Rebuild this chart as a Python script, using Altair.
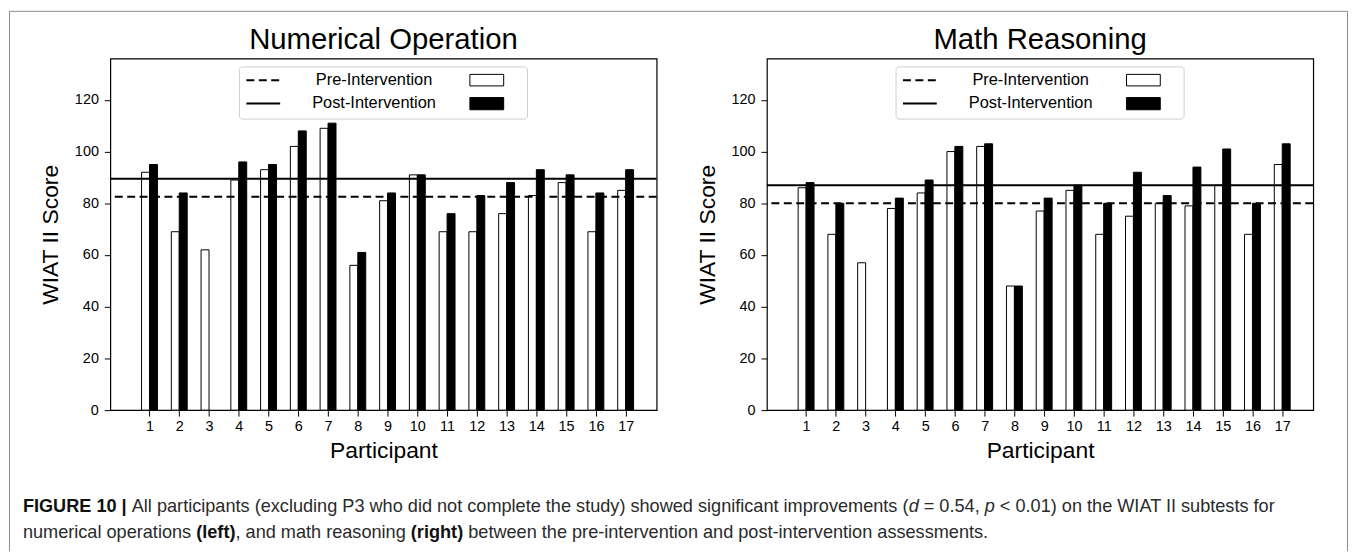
import altair as alt
import pandas as pd

# ---------------- data ----------------
participants = list(range(1, 18))
num_pre = [92, 69, 62, 89, 93, 102, 109, 56, 81, 91, 69, 69, 76, 83, 88, 69, 85]
num_post = [95, 84, None, 96, 95, 108, 111, 61, 84, 91, 76, 83, 88, 93, 91, 84, 93]
math_pre = [86, 68, 57, 78, 84, 100, 102, 48, 77, 85, 68, 75, 80, 79, 87, 68, 95]
math_post = [88, 80, None, 82, 89, 102, 103, 48, 82, 87, 80, 92, 83, 94, 101, 80, 103]
num_means = [82.5, 89.5]     # pre, post group means (horizontal lines)
math_means = [80.0, 87.0]
phases = ["Pre-Intervention", "Post-Intervention"]
panel_titles = ["Numerical Operation", "Math Reasoning"]
y_ticks = [0, 20, 40, 60, 80, 100, 120]

caption_line1 = [
    ("FIGURE 10 |", "bold"),
    (" All participants (excluding P3 who did not complete the study) showed significant improvements (", "reg"),
    ("d", "it"),
    (" = 0.54, ", "reg"),
    ("p", "it"),
    (" < 0.01) on the WIAT II subtests for", "reg"),
]
caption_line2 = [
    ("numerical operations ", "reg"),
    ("(left)", "bold"),
    (", and math reasoning ", "reg"),
    ("(right)", "bold"),
    (" between the pre-intervention and post-intervention assessments.", "reg"),
]

# ---------------- styling ----------------
FONT = "Liberation Sans"
W, H = 550, 354
X_DOMAIN = [-0.15, 17.875]
Y_DOMAIN = [0, 136]

REG = {' ': 278, '(': 333, ')': 333, ',': 278, '-': 333, '.': 278, '|': 260, '=': 584, '<': 584,
       'A': 667, 'B': 667, 'C': 722, 'D': 722, 'E': 667, 'F': 611, 'G': 778, 'H': 722, 'I': 278,
       'J': 500, 'K': 667, 'L': 556, 'M': 833, 'N': 722, 'O': 778, 'P': 667, 'Q': 778, 'R': 722,
       'S': 667, 'T': 611, 'U': 722, 'V': 667, 'W': 944, 'X': 667, 'Y': 667, 'Z': 611,
       'a': 556, 'b': 556, 'c': 500, 'd': 556, 'e': 556, 'f': 278, 'g': 556, 'h': 556, 'i': 222,
       'j': 222, 'k': 500, 'l': 222, 'm': 833, 'n': 556, 'o': 556, 'p': 556, 'q': 556, 'r': 333,
       's': 500, 't': 278, 'u': 556, 'v': 500, 'w': 722, 'x': 500, 'y': 500, 'z': 500}
BOLD = {' ': 278, '(': 333, ')': 333, '|': 280, 'E': 667, 'F': 611, 'G': 778, 'I': 278, 'R': 722,
        'U': 722, 'e': 556, 'f': 333, 'g': 611, 'h': 611, 'i': 278, 'l': 278, 'r': 389, 't': 333}


def em(s, style):
    table = BOLD if style == "bold" else REG
    return sum(table.get(c, 556) for c in s) / 1000.0


line1_em = sum(em(s, st) for s, st in caption_line1)
CAP_SIZE = 1262.0 / line1_em

one = pd.DataFrame({"k": [0]})


def txt(text, x, y, size, align="left", weight="normal", style="normal", color="black",
        baseline="middle"):
    return alt.Chart(one).mark_text(
        font=FONT, fontSize=size, align=align, baseline=baseline,
        fontWeight=weight, fontStyle=style, color=color
    ).encode(x=alt.value(x), y=alt.value(y), text=alt.value(text))


def caption_layers(segments, x0, y):
    layers = []
    cursor = x0
    for s, st in segments:
        lead = len(s) - len(s.lstrip(" "))
        xs = cursor + em(" " * lead, st) * CAP_SIZE
        layers.append(txt(s.strip(" "), xs, y, CAP_SIZE,
                          weight="bold" if st == "bold" else "normal",
                          style="italic" if st == "it" else "normal",
                          color="#111111" if st == "bold" else "#2a2a2a"))
        cursor += em(s, st) * CAP_SIZE
    return layers


def panel(title, pre, post, means, decorate):
    df = pd.DataFrame({
        "participant": participants * 2,
        "phase": [phases[0]] * len(participants) + [phases[1]] * len(participants),
        "score": pre + post,
    }).dropna()
    mdf = pd.DataFrame({"phase": phases, "mean": means})

    xenc = alt.X("participant:Q",
                 scale=alt.Scale(domain=X_DOMAIN, nice=False, zero=False),
                 axis=alt.Axis(values=participants, format="d", title="Participant",
                               labelPadding=4, titlePadding=6))
    yscale = alt.Scale(domain=Y_DOMAIN, nice=False)
    yaxis = alt.Axis(values=y_ticks, title="WIAT II Score", labelPadding=6, titlePadding=12)

    pre_bars = alt.Chart(df).transform_filter(alt.datum.phase == phases[0]).mark_bar(
        width=8, xOffset=-4, fill="white", stroke="black", strokeWidth=1
    ).encode(x=xenc, y=alt.Y("score:Q", scale=yscale, axis=yaxis))
    post_bars = alt.Chart(df).transform_filter(alt.datum.phase == phases[1]).mark_bar(
        width=8, xOffset=4, fill="black", stroke="black", strokeWidth=1
    ).encode(x=xenc, y=alt.Y("score:Q", scale=yscale, axis=yaxis))

    pre_line = alt.Chart(mdf).transform_filter(alt.datum.phase == phases[0]).mark_rule(
        color="black", strokeWidth=2, strokeDash=[8, 4.5]
    ).encode(y=alt.Y("mean:Q", scale=yscale, axis=yaxis))
    post_line = alt.Chart(mdf).transform_filter(alt.datum.phase == phases[1]).mark_rule(
        color="black", strokeWidth=2
    ).encode(y=alt.Y("mean:Q", scale=yscale, axis=yaxis))

    # legend (custom)
    leg_box = alt.Chart(one).mark_rect(
        fill="white", fillOpacity=0.85, stroke="#cfcfcf", strokeWidth=1, cornerRadius=3
    ).encode(x=alt.value(130), x2=alt.value(420), y=alt.value(8.5), y2=alt.value(61))
    leg_dash = alt.Chart(one).mark_rule(color="black", strokeWidth=2, strokeDash=[8, 4.5]).encode(
        x=alt.value(137), x2=alt.value(171), y=alt.value(22))
    leg_solid = alt.Chart(one).mark_rule(color="black", strokeWidth=2).encode(
        x=alt.value(137), x2=alt.value(171), y=alt.value(45.3))
    leg_t1 = txt(phases[0], 265.5, 22, 16.5, align="center")
    leg_t2 = txt(phases[1], 265.5, 45.3, 16.5, align="center")
    leg_r1 = alt.Chart(one).mark_rect(fill="white", stroke="black", strokeWidth=1).encode(
        x=alt.value(362), x2=alt.value(396), y=alt.value(16), y2=alt.value(27.6))
    leg_r2 = alt.Chart(one).mark_rect(fill="black", stroke="black", strokeWidth=1).encode(
        x=alt.value(362), x2=alt.value(396), y=alt.value(39.3), y2=alt.value(51.6))

    # panel title as a text mark above the plot
    title_mark = txt(title, W / 2, -10, 29.5, align="center", baseline="alphabetic")

    layers = [pre_bars, post_bars, pre_line, post_line,
              leg_box, leg_dash, leg_solid, leg_t1, leg_t2, leg_r1, leg_r2, title_mark]

    if decorate:
        frame_col = "#8c8c8c"
        layers += [
            alt.Chart(one).mark_rule(color=frame_col, strokeWidth=1).encode(
                x=alt.value(-101.5), y=alt.value(-47.5), y2=alt.value(496)),
            alt.Chart(one).mark_rule(color=frame_col, strokeWidth=1).encode(
                x=alt.value(-101.5), x2=alt.value(1245.5), y=alt.value(-47.5)),
            alt.Chart(one).mark_rule(color=frame_col, strokeWidth=1).encode(
                x=alt.value(1245.5), y=alt.value(-47.5), y2=alt.value(496)),
        ]
        layers += caption_layers(caption_line1, -88, 452)
        layers += caption_layers(caption_line2, -88, 478)

    return alt.layer(*layers).properties(width=W, height=H)


left = panel(panel_titles[0], num_pre, num_post, num_means, True)
right = panel(panel_titles[1], math_pre, math_post, math_means, False)

chart = alt.hconcat(left, right, spacing=111, bounds="flush", padding=0).configure_view(
    stroke="black", strokeWidth=1.2
).configure_axis(
    domain=False, grid=False, ticks=True, tickColor="black", tickSize=6, tickWidth=1,
    labelFont=FONT, labelFontSize=14.5, labelColor="black",
    titleFont=FONT, titleFontSize=23, titleFontWeight="normal", titleColor="black",
)

chart.save("out.html", embed_options={"renderer": "svg", "actions": False})
